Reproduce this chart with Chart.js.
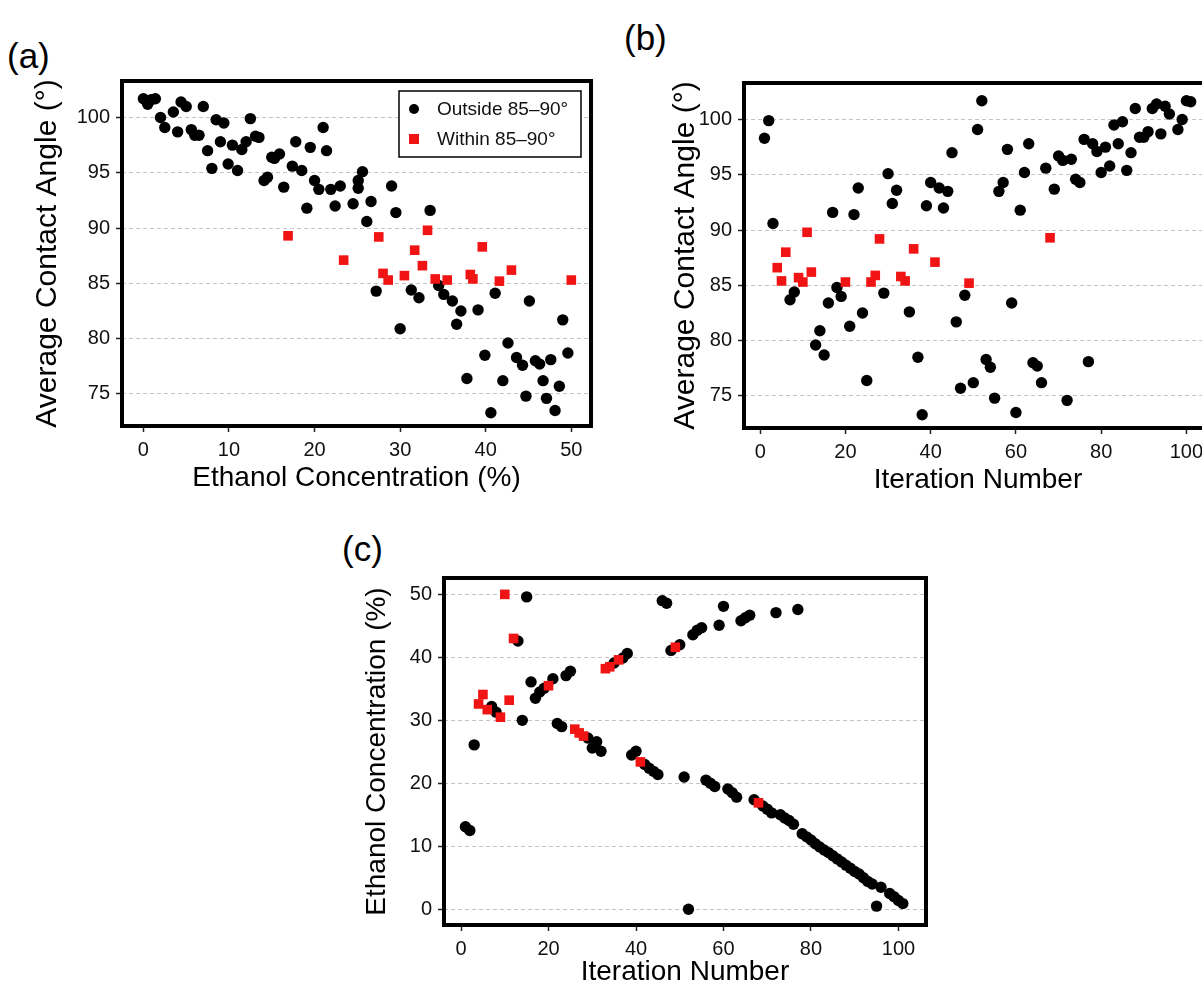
<!DOCTYPE html>
<html>
<head>
<meta charset="utf-8">
<script src="https://cdn.jsdelivr.net/npm/chart.js@4.4.1/dist/chart.umd.min.js"></script>
<style>
  html, body { margin: 0; padding: 0; background: #fff; overflow: hidden; width: 1202px; height: 984px; }
  body { position: relative; }
  .panel { position: absolute; }
  .tag { position: absolute; font-family: "Liberation Sans", Arial, sans-serif; font-size: 35px; line-height: 35px; color: #000; }
</style>
</head>
<body>
<div class="tag" style="left:7px;top:38px">(a)</div>
<div class="tag" style="left:624px;top:20px">(b)</div>
<div class="tag" style="left:342px;top:531px">(c)</div>
<canvas id="chartA" class="panel" width="600" height="450" style="left:0;top:60px"></canvas>
<canvas id="chartB" class="panel" width="600" height="450" style="left:620px;top:60px"></canvas>
<canvas id="chartC" class="panel" width="620" height="450" style="left:320px;top:560px"></canvas>
<script>
// one entry per optimisation iteration (iteration 97 is hidden under its neighbours)
var iteration = [
  1, 2, 3, 4, 5, 6, 7, 8, 9, 10,
  11, 12, 13, 14, 15, 16, 17, 18, 19, 20,
  21, 22, 23, 24, 25, 26, 27, 28, 29, 30,
  31, 32, 33, 34, 35, 36, 37, 38, 39, 40,
  41, 42, 43, 44, 45, 46, 47, 48, 49, 50,
  51, 52, 53, 54, 55, 56, 57, 58, 59, 60,
  61, 62, 63, 64, 65, 66, 67, 68, 69, 70,
  71, 72, 73, 74, 75, 76, 77, 78, 79, 80,
  81, 82, 83, 84, 85, 86, 87, 88, 89, 90,
  91, 92, 93, 94, 95, 96, 98, 99, 100, 101
];
var ethanolConc = [
  13.1, 12.5, 26.1, 32.6, 34.1, 31.7, 32.2, 31.3, 30.5, 50.0,
  33.2, 43.0, 42.6, 30.0, 49.6, 36.1, 33.5, 34.5, 35.1, 35.5,
  36.6, 29.5, 29.0, 37.1, 37.8, 28.6, 28.0, 27.5, 27.2, 25.6,
  26.6, 25.1, 38.2, 38.5, 39.1, 39.6, 39.9, 40.6, 24.5, 25.1,
  23.4, 23.0, 22.4, 21.9, 21.4, 49.0, 48.6, 41.1, 41.6, 42.0,
  21.0, 0.0, 43.6, 44.3, 44.7, 20.5, 20.0, 19.5, 45.1, 48.1,
  19.1, 18.5, 17.8, 45.8, 46.3, 46.7, 17.4, 16.9, 16.4, 15.9,
  15.3, 47.1, 15.0, 14.5, 14.1, 13.5, 47.6, 12.0, 11.5, 11.0,
  10.4, 9.9, 9.4, 9.0, 8.5, 8.0, 7.5, 7.0, 6.5, 6.0,
  5.6, 5.0, 4.4, 4.0, 0.5, 3.5, 2.5, 2.0, 1.4, 0.9
];
var contactAngle = [
  98.3, 99.9, 90.6, 86.6, 85.4, 88.0, 83.7, 84.4, 85.7, 85.3,
  89.8, 86.2, 79.6, 80.9, 78.7, 83.4, 91.6, 84.8, 84.0, 85.3,
  81.3, 91.4, 93.8, 82.5, 76.4, 85.3, 85.9, 89.2, 84.3, 95.1,
  92.4, 93.6, 85.8, 85.4, 82.6, 88.3, 78.5, 73.3, 92.2, 94.3,
  87.1, 93.8, 92.0, 93.5, 97.0, 81.7, 75.7, 84.1, 85.2, 76.2,
  99.1, 101.7, 78.3, 77.6, 74.8, 93.5, 94.3, 97.3, 83.4, 73.5,
  91.8, 95.2, 97.8, 78.0, 77.7, 76.2, 95.6, 89.3, 93.7, 96.7,
  96.3, 74.6, 96.4, 94.6, 94.3, 98.2, 78.1, 97.8, 97.1, 95.2,
  97.5, 95.8, 99.5, 97.8, 99.8, 95.4, 97.0, 101.0, 98.4, 98.4,
  98.9, 101.0, 101.4, 98.7, 101.2, 100.5, 99.1, 100.0, 101.7, 101.6
];

var seriesLabels = ['Outside 85\u201390\u00b0', 'Within 85\u201390\u00b0'];
var angleTicks = [75, 80, 85, 90, 95, 100];
var concTicks = [0, 10, 20, 30, 40, 50];
var iterTicks = [0, 20, 40, 60, 80, 100];

var FONT = '"Liberation Sans", Arial, sans-serif';
var BLACK = '#000000', RED = '#f01414';

function isWithin(i) {
  return contactAngle[i] >= 85 && contactAngle[i] <= 90;
}

// build {x, y} points from two of the arrays, split into outside / within
function split(xs, ys) {
  var out = [], inn = [];
  for (var i = 0; i < iteration.length; i++) {
    (isWithin(i) ? inn : out).push({ x: xs[i], y: ys[i] });
  }
  return [out, inn];
}

var frameBox = {
  id: 'frameBox',
  afterDatasetsDraw: function(chart) {
    var a = chart.chartArea, ctx = chart.ctx;
    ctx.save();
    ctx.lineWidth = 4;
    ctx.strokeStyle = '#000';
    ctx.strokeRect(a.left, a.top, a.right - a.left, a.bottom - a.top);
    ctx.restore();
  }
};

// matplotlib style legend box in the top right corner of the plot
var boxLegend = {
  id: 'boxLegend',
  afterDraw: function(chart) {
    var a = chart.chartArea, ctx = chart.ctx,
        w = 182, h = 66,
        left = a.right - 10 - w, top = a.top + 10;
    ctx.save();
    ctx.fillStyle = '#fff';
    ctx.fillRect(left, top, w, h);
    ctx.lineWidth = 1.5;
    ctx.strokeStyle = '#000';
    ctx.strokeRect(left, top, w, h);
    ctx.font = '19px ' + FONT;
    ctx.textBaseline = 'middle';
    chart.data.datasets.forEach(function(ds, i) {
      var cy = top + 18 + i * 30, cx = left + 15;
      ctx.fillStyle = ds.backgroundColor;
      if (ds.pointStyle === 'rect') {
        ctx.fillRect(cx - 5, cy - 5, 10, 10);
      } else {
        ctx.beginPath();
        ctx.arc(cx, cy, 5, 0, Math.PI * 2);
        ctx.fill();
      }
      ctx.fillStyle = '#111';
      ctx.fillText(ds.label, left + 38, cy + 1);
    });
    ctx.restore();
  }
};

function axis(a, dir) {
  return {
    type: 'linear',
    min: a.min,
    max: a.max,
    afterBuildTicks: function(s) {
      s.ticks = a.ticks.map(function(v) { return { value: v }; });
    },
    afterFit: function(s) {
      if (dir === 'x') s.height = a.size; else s.width = a.size;
    },
    // in v4 the dash of the grid lines lives under border
    border: { display: false, dash: [4, 3] },
    grid: {
      drawOnChartArea: dir === 'y',
      color: '#c4c4c4',
      lineWidth: 1,
      tickColor: '#222',
      tickLength: 6,
      tickWidth: 1.5,
      tickBorderDash: [1, 0]
    },
    ticks: { color: '#111', padding: 6, maxRotation: 0, font: { family: FONT, size: 20 } },
    title: {
      display: true,
      text: a.title,
      color: '#000',
      font: { family: FONT, size: a.titleSize || 28 },
      padding: dir === 'x' ? { top: 0, bottom: a.titlePad } : { top: a.titlePad, bottom: 0 }
    }
  };
}

function makePanel(id, pts, cfg, extra) {
  return new Chart(document.getElementById(id), {
    type: 'scatter',
    data: {
      datasets: [
        { label: seriesLabels[0], data: pts[0], pointStyle: 'circle', pointRadius: 5.7,
          backgroundColor: BLACK, borderWidth: 0, order: 1 },
        { label: seriesLabels[1], data: pts[1], pointStyle: 'rect', pointRadius: 6.8,
          backgroundColor: RED, borderWidth: 0, order: 0 }
      ]
    },
    options: {
      responsive: false,
      animation: false,
      devicePixelRatio: 1,
      events: [],
      layout: { padding: cfg.pad },
      plugins: { legend: { display: false }, tooltip: { enabled: false } },
      scales: { x: axis(cfg.x, 'x'), y: axis(cfg.y, 'y') }
    },
    plugins: [frameBox].concat(extra || [])
  });
}

makePanel('chartA', split(ethanolConc, contactAngle), {
  pad: { left: 0, top: 21, right: 9, bottom: 0 },
  x: { min: -2.5, max: 52.3, ticks: concTicks, size: 84, title: 'Ethanol Concentration (%)', titlePad: 15 },
  y: { min: 72.1, max: 103.3, ticks: angleTicks, size: 122, title: 'Average Contact Angle (\u00b0)', titlePad: 30, titleSize: 30 }
}, [boxLegend]);

makePanel('chartB', split(iteration, contactAngle), {
  pad: { left: 0, top: 23, right: 8, bottom: 0 },
  x: { min: -3.8, max: 106, ticks: iterTicks, size: 82, title: 'Iteration Number', titlePad: 13 },
  y: { min: 72.1, max: 103.3, ticks: angleTicks, size: 124, title: 'Average Contact Angle (\u00b0)', titlePad: 48, titleSize: 30 }
});

makePanel('chartC', split(iteration, ethanolConc), {
  pad: { left: 0, top: 18, right: 14, bottom: 0 },
  x: { min: -3.9, max: 106.3, ticks: iterTicks, size: 85, title: 'Iteration Number', titlePad: 21 },
  y: { min: -2.5, max: 52.6, ticks: concTicks, size: 124, title: 'Ethanol Concentration (%)', titlePad: 40 }
});
</script>
</body>
</html>
